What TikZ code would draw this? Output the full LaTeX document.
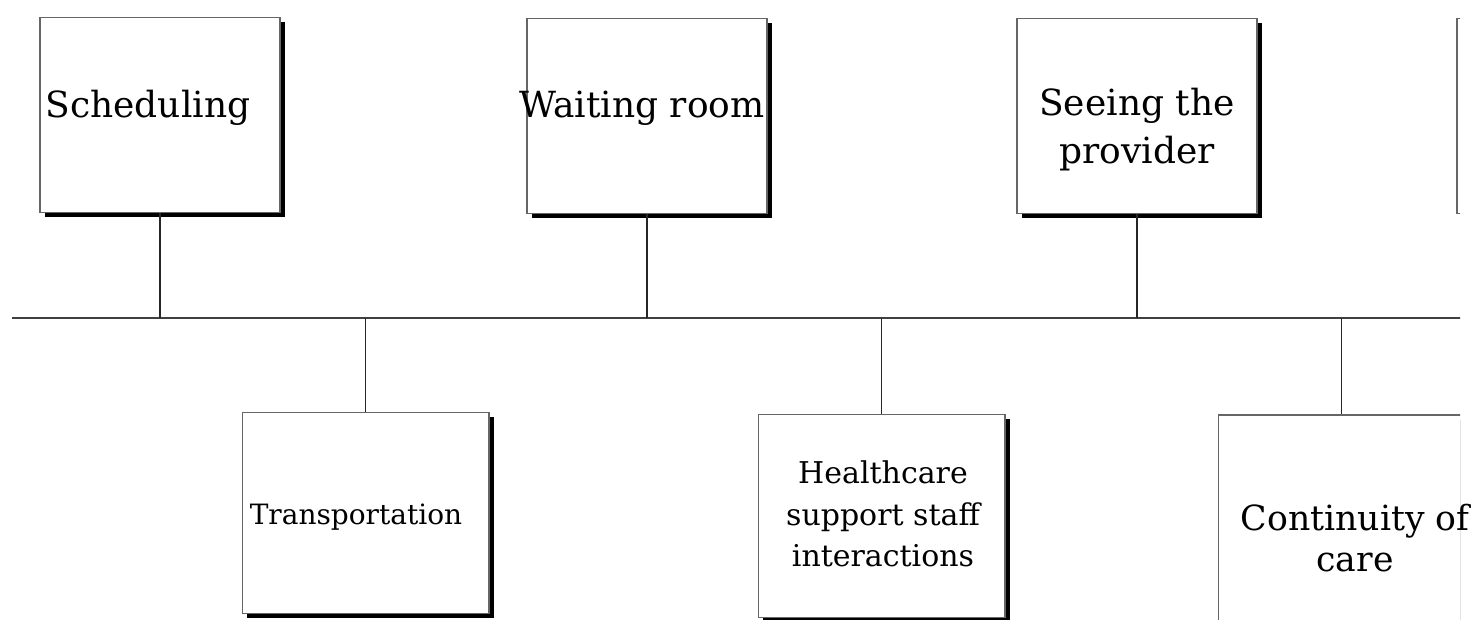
\documentclass[tikz,border=0pt]{standalone}
\usepackage{fontspec}
\setmainfont{DejaVu Serif}
\usetikzlibrary{positioning,shadows}

\begin{document}
\begin{tikzpicture}[x=0.75pt, y=-0.75pt,
        stagebox/.style={rectangle, draw=black!60, line width=1pt, fill=white, inner sep=0pt,
                drop shadow={shadow xshift=3.5pt, shadow yshift=-3.5pt, fill=black, opacity=1}},
        topbox/.style={stagebox, minimum width=180pt, minimum height=146pt},
        lowbox/.style={stagebox, minimum width=185pt, minimum height=151pt},
        link/.style={draw=black!85, line width=1.3pt},
        stagetext/.style={align=center, inner sep=0pt, text=black}]

        \useasboundingbox (0,0) rectangle (1484,620);

        \begin{scope}
        \clip (0,0) rectangle (1460,620);

        % the time line
        \coordinate (lineL) at (12,318);
        \coordinate (lineR) at (1462,318);
        \draw[link, line width=1.8pt, draw=black!75] (lineL) -- (lineR);

        % boxes above the line
        \node[topbox] (sched) at (160,115) {};
        \node[topbox] (wait) at (647,116) {};
        \node[topbox] (seeing) at (1137,116) {};
        \node[topbox] (next) at (1577,116) {};

        % boxes below the line
        \node[lowbox] (trans) at (365.5,513) {};
        \node[lowbox, minimum height=152pt] (staff) at (881.5,516) {};
        \node[lowbox, minimum height=154pt] (cont) at (1341.5,517.5) {};

        \draw[link] (sched.south) -- (sched.south |- lineL);
        \draw[link] (wait.south) -- (wait.south |- lineL);
        \draw[link] (seeing.south) -- (seeing.south |- lineL);
        \draw[link] (trans.north) -- (trans.north |- lineL);
        \draw[link] (staff.north) -- (staff.north |- lineL);
        \draw[link] (cont.north) -- (cont.north |- lineL);
        \end{scope}

        % labels
        \node[stagetext, font=\fontsize{27}{36}\selectfont] (schedtxt) at (148,108) {Scheduling};
        \node[stagetext, font=\fontsize{27}{36}\selectfont] (waittxt) at (642,108) {Waiting room};
        \node[stagetext, font=\fontsize{27}{36}\selectfont] (seeingtxt) at (1137,130) {Seeing the\\provider};
        \node[stagetext, font=\fontsize{21}{28}\selectfont] (transtxt) at (356,517) {Transportation};
        \node[stagetext, font=\fontsize{22.5}{31}\selectfont] (stafftxt) at (883,514) {Healthcare\\support staff\\interactions};
        \node[stagetext, font=\fontsize{26}{31}\selectfont] (conttxt) at (1355,538) {Continuity of\\care};

\end{tikzpicture}
\end{document}
